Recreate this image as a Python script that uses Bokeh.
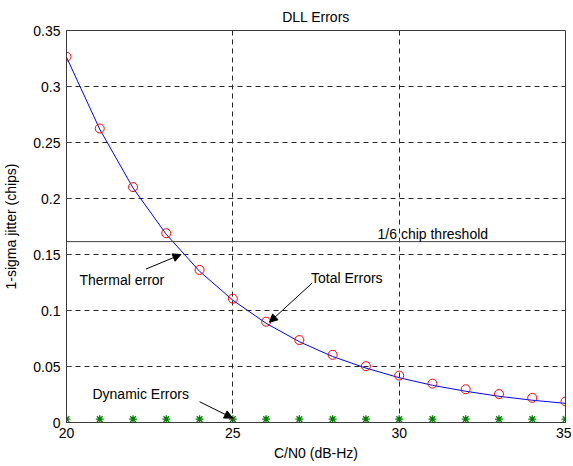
from bokeh.plotting import figure
from bokeh.models import Range1d, FixedTicker, Span, Label, Arrow, NormalHead
from bokeh.embed import file_html
from bokeh.resources import INLINE

# ---- data ----
cn0 = [20, 21, 22, 23, 24, 25, 26, 27, 28, 29, 30, 31, 32, 33, 34, 35]
total_errors = [0.3266, 0.2625, 0.2102, 0.1690, 0.1362, 0.1106, 0.0900, 0.0736,
                0.0604, 0.0503, 0.0419, 0.0347, 0.0297, 0.0254, 0.0220, 0.0188]
thermal_error = [0.3262, 0.2618, 0.2094, 0.1680, 0.1350, 0.1092, 0.0886, 0.0721,
                 0.0589, 0.0486, 0.0400, 0.0332, 0.0279, 0.0234, 0.0199, 0.0171]
dynamic_errors = [0.003, 0.003, 0.003, 0.003, 0.003, 0.003, 0.003, 0.003,
                  0.003, 0.003, 0.003, 0.003, 0.003, 0.003, 0.003, 0.003]
threshold = 0.1615
x_ticks = [20, 25, 30, 35]
x_tick_labels = ["20", "25", "30", "35"]
y_ticks = [0, 0.05, 0.1, 0.15, 0.2, 0.25, 0.3, 0.35]
y_tick_labels = ["0", "0.05", "0.1", "0.15", "0.2", "0.25", "0.3", "0.35"]

FONT = "Liberation Sans"
FS = "14px"
AX = "#3c3c3c"

p = figure(width=571, height=464, output_backend="svg", toolbar_location=None,
           x_range=Range1d(20, 35), y_range=Range1d(0, 0.35),
           min_border_left=63, min_border_right=6, min_border_top=30, min_border_bottom=42,
           x_axis_label="C/N0 (dB-Hz)", y_axis_label="1-sigma jitter (chips)",
           title="DLL Errors")
p.outline_line_color = AX
p.outline_line_width = 1
p.background_fill_color = "white"
p.border_fill_color = "white"

p.title.align = "center"
p.title.text_font = FONT
p.title.text_font_size = FS
p.title.text_font_style = "normal"
p.title.text_color = "black"
p.title.standoff = 11

xt = FixedTicker(ticks=x_ticks)
yt = FixedTicker(ticks=y_ticks)

for ax in (p.xaxis[0], p.yaxis[0]):
    ax.axis_line_color = AX
    ax.major_tick_line_color = AX
    ax.major_tick_in = 5
    ax.major_tick_out = 0
    ax.minor_tick_line_color = None
    ax.major_label_text_font = FONT
    ax.major_label_text_font_size = FS
    ax.major_label_text_color = "black"
    ax.axis_label_text_font = FONT
    ax.axis_label_text_font_size = FS
    ax.axis_label_text_font_style = "normal"
    ax.axis_label_text_color = "black"

p.xaxis[0].ticker = xt
p.yaxis[0].ticker = yt
p.xaxis[0].major_label_overrides = {t: s for t, s in zip(x_ticks, x_tick_labels)}
p.yaxis[0].major_label_overrides = {t: s for t, s in zip(y_ticks, y_tick_labels)}
p.xaxis[0].major_label_standoff = 5
p.xaxis[0].axis_label_standoff = 4
p.yaxis[0].major_label_standoff = 6
p.yaxis[0].axis_label_standoff = 11

p.xgrid.ticker = xt
p.ygrid.ticker = yt
for g in (p.xgrid[0], p.ygrid[0]):
    g.grid_line_color = "#262626"
    g.grid_line_dash = "5 4"
    g.grid_line_width = 1

p.add_layout(Span(location=threshold, dimension="width", line_color="#404040", line_width=1))

p.line(cn0, thermal_error, line_color="blue", line_width=1)
p.scatter(cn0, total_errors, marker="circle", size=9, line_color="red",
          fill_color=None, line_width=1)
p.scatter(cn0, dynamic_errors, marker="asterisk", size=8, line_color="#008000",
          line_width=1.3)

def lab(x, y, t):
    p.add_layout(Label(x=x, y=y, text=t, text_font=FONT, text_font_size=FS,
                       text_baseline="middle", text_align="left", text_color="black"))

lab(29.35, 0.1685, "1/6 chip threshold")
lab(20.39, 0.127, "Thermal error")
lab(27.35, 0.129, "Total Errors")
lab(20.78, 0.0255, "Dynamic Errors")

def arrow(x0, y0, x1, y1):
    p.add_layout(Arrow(end=NormalHead(size=8, fill_color="black", line_color="black"),
                       x_start=x0, y_start=y0, x_end=x1, y_end=y1,
                       line_color="black", line_width=1))

arrow(22.39, 0.137, 23.44, 0.150)
arrow(27.38, 0.1244, 26.10, 0.0895)
arrow(24.0, 0.0185, 24.99, 0.0040)

open("out.html", "w").write(file_html(p, INLINE))
